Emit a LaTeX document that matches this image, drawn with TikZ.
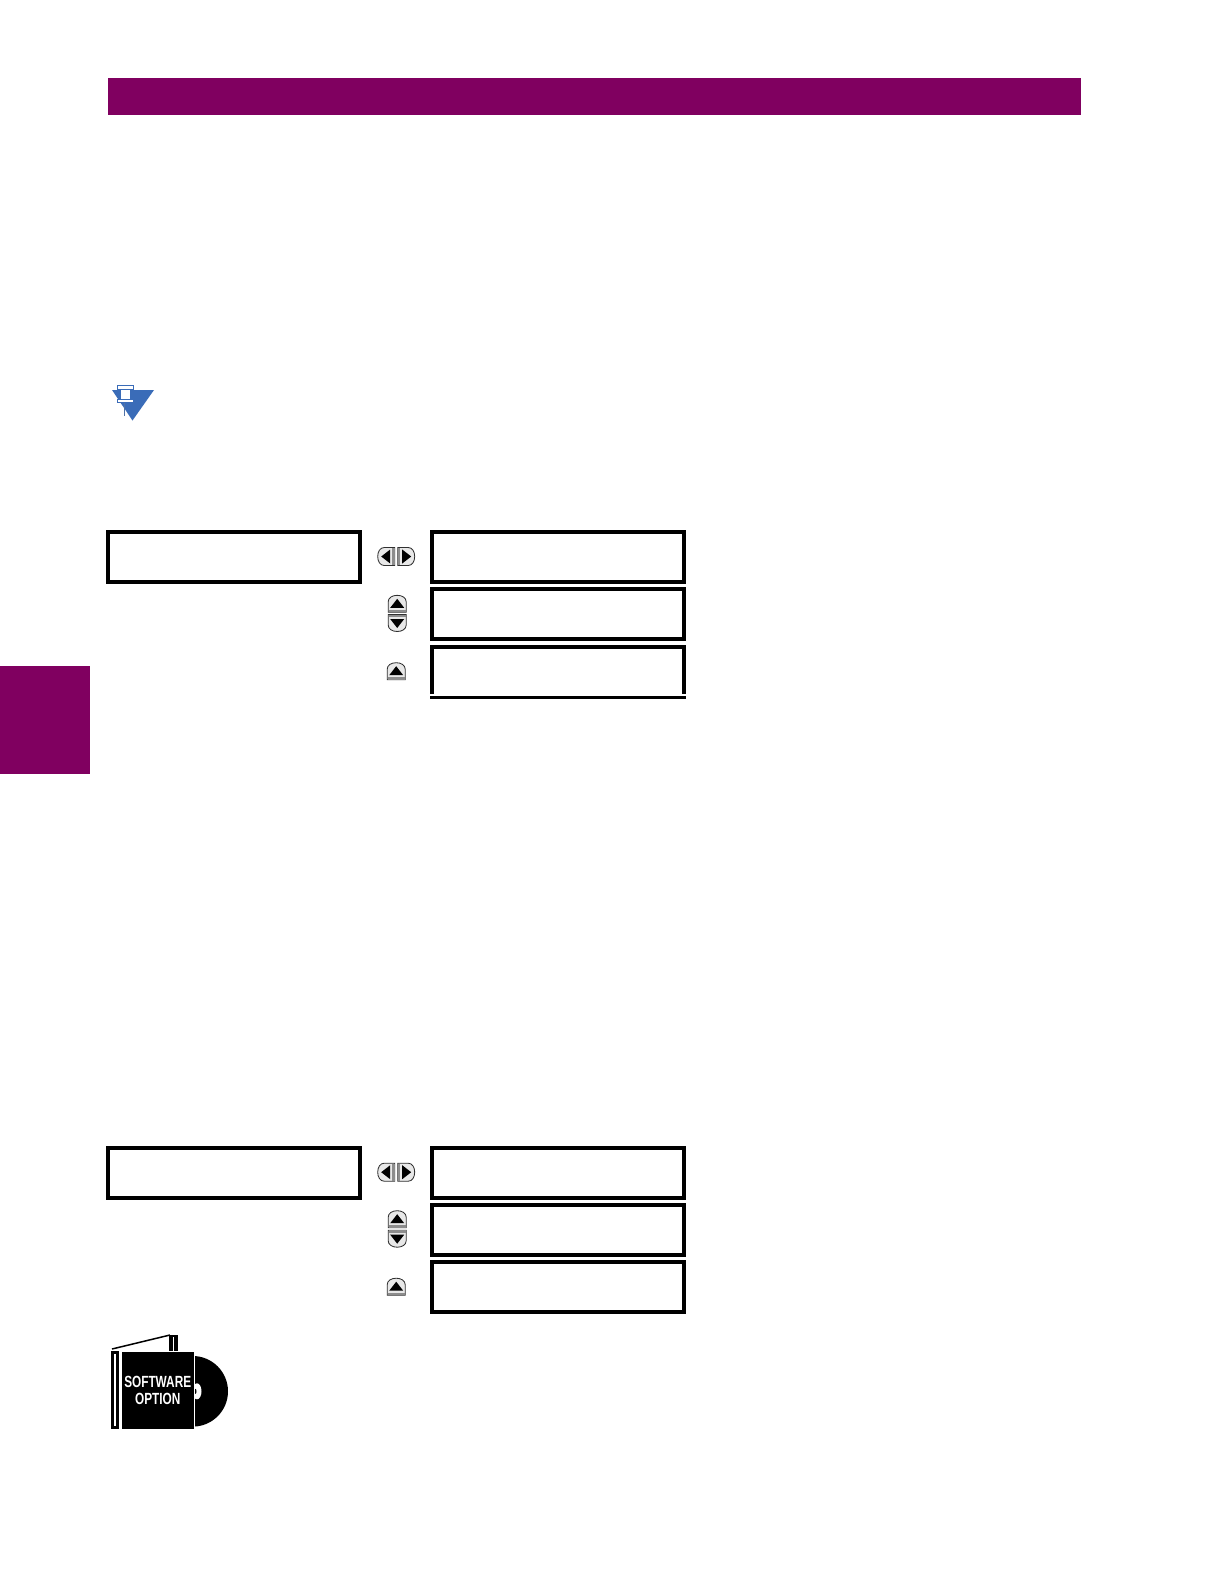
\documentclass[tikz,border=0pt]{standalone}
\usepackage{fontspec}
\setmainfont{Liberation Sans}
\definecolor{band}{HTML}{800060}
\definecolor{noteblue}{HTML}{3A6CB8}
\definecolor{btnfill}{HTML}{E8E8E8}
\definecolor{btnline}{HTML}{303030}
\tikzset{
  x=0.6pt,y=-0.6pt,
  panel/.style={draw=black,line width=2.4pt,fill=white,minimum width=151.2pt,minimum height=30pt,inner sep=0pt,outer sep=0pt,anchor=north west,shape=rectangle},
  menu/.style={panel,minimum width=151pt},
  bandfill/.style={fill=band,draw=none},
  btn/.style={fill=btnfill,draw=btnline,line width=0.5pt},
  tri/.style={fill=black,draw=none},
  btnup/.pic={
    \path[btn] (-9,8.5) -- (-9,-2) .. controls (-9,-6) and (-5,-8.5) .. (0,-8.5) .. controls (5,-8.5) and (9,-6) .. (9,-2) -- (9,8.5) -- cycle;
    \path[tri] (-7,4) -- (0,-5) -- (7,4) -- cycle;
    \path[fill=btnline!55,draw=none] (-8.7,6) rectangle (8.7,8.3);
  },
  btndown/.pic={
    \path[btn] (-9,-8.5) -- (-9,2) .. controls (-9,6) and (-5,8.5) .. (0,8.5) .. controls (5,8.5) and (9,6) .. (9,2) -- (9,-8.5) -- cycle;
    \path[tri] (-7,-4) -- (0,5) -- (7,-4) -- cycle;
    \path[fill=btnline!55,draw=none] (-8.7,-8.3) rectangle (8.7,-6);
  },
  btnleft/.pic={
    \path[btn] (8.5,-9) -- (-2,-9) .. controls (-6,-9) and (-8.5,-5) .. (-8.5,0) .. controls (-8.5,5) and (-6,9) .. (-2,9) -- (8.5,9) -- cycle;
    \path[tri] (4,-7) -- (-5,0) -- (4,7) -- cycle;
    \path[fill=btnline!55,draw=none] (6,-8.7) rectangle (8.3,8.7);
  },
  btnright/.pic={
    \path[btn] (-8.5,-9) -- (2,-9) .. controls (6,-9) and (8.5,-5) .. (8.5,0) .. controls (8.5,5) and (6,9) .. (2,9) -- (-8.5,9) -- cycle;
    \path[tri] (-4,-7) -- (5,0) -- (-4,7) -- cycle;
    \path[fill=btnline!55,draw=none] (-8.3,-8.7) rectangle (-6,8.7);
  },
  softlabel/.style={text=white,font=\bfseries\fontsize{9.7pt}{10pt}\selectfont,xscale=0.73,inner sep=0pt},
}
\begin{document}
\begin{tikzpicture}
\useasboundingbox[fill=white] (0,0) rectangle (1224,1584);
% bands
\path[bandfill] (108,78) rectangle (1081,115);
\path[bandfill] (0,666) rectangle (90,774);
% note icon
\path[fill=noteblue] (112,390) -- (154,390) -- (132.5,420.5) -- cycle;
\path[fill=white,draw=noteblue,line width=0.4pt] (117,385) rectangle (133,389);
\path[fill=white,draw=noteblue,line width=0.4pt] (120,389) rectangle (130,399);
\path[fill=white,draw=noteblue,line width=0.4pt] (117,399) rectangle (133,402.5);
\draw[noteblue!70!gray,line width=0.8pt] (124.5,402.5) -- (124.5,416);
% first group
\node[panel] (a1) at (108,532) {};
\node[menu] (b1) at (432,532) {};
\node[menu] (b2) at (432,589) {};
\path[draw=black,line width=2.4pt] (432,694) -- (432,647) -- (683.7,647) -- (683.7,694);
\path[fill=black] (430,695.5) rectangle (685.7,699);
\pic at (386.2,556.5) {btnleft};
\pic at (406.2,556.5) {btnright};
\pic at (397.2,603.8) {btnup};
\pic at (397.2,623) {btndown};
\pic at (396.2,671.2) {btnup};
% second group
\node[panel] (a2) at (108,1148) {};
\node[menu] (c1) at (432,1148) {};
\node[menu] (c2) at (432,1205) {};
\node[menu] (c3) at (432,1262) {};
\pic at (386.2,1172.2) {btnleft};
\pic at (406.2,1172.2) {btnright};
\pic at (397.2,1219.2) {btnup};
\pic at (397.2,1238.7) {btndown};
\pic at (396.2,1286.7) {btnup};
% software option icon
\path[fill=black] (192.7,1356) arc[start angle=-90,end angle=90,radius=35.3] -- cycle;
\path[fill=white] (197,1391.3) ellipse (4.5 and 8);
\path[fill=black] (195.5,1391.3) ellipse (1 and 2.5);
\draw[black,line width=0.9pt] (112,1349) -- (170,1335);
\path[fill=black] (169,1335) rectangle (178,1352);
\path[fill=white] (172.5,1337) rectangle (174,1352);
\path[fill=black] (111,1351) rectangle (119,1429);
\path[fill=white] (114,1354) rectangle (116,1426);
\path[fill=black,draw=white,line width=0.6pt] (121,1351) rectangle (194.5,1429);
\node[softlabel] (soft) at (157.7,1382) {SOFTWARE};
\node[softlabel] (opt) at (157.7,1398.5) {OPTION};
\end{tikzpicture}
\end{document}
